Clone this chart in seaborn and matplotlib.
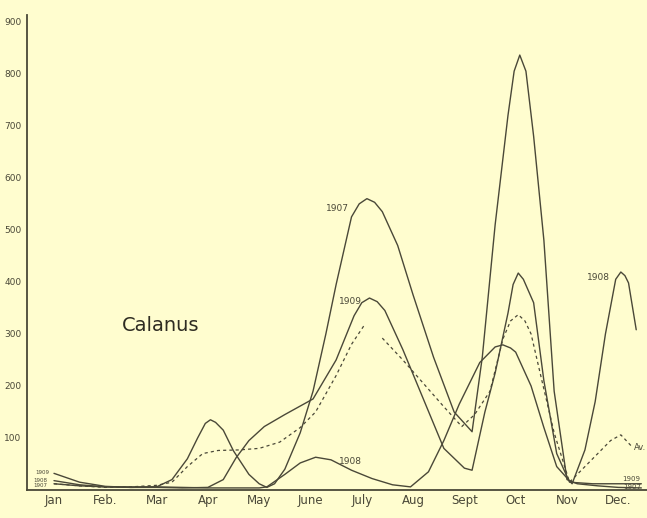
import pandas as pd
import seaborn as sns
import matplotlib.pyplot as plt

# Calanus catch per month
months = ["Jan", "Feb.", "Mar", "Apr", "May", "June", "July", "Aug", "Sept", "Oct", "Nov", "Dec."]
y_ticks = [100, 200, 300, 400, 500, 600, 700, 800, 900]

# positions in month units (0 = Jan)
x_1907 = [0, 0.5, 1, 1.5, 2, 2.3, 2.6, 2.8, 2.95, 3.05, 3.15, 3.3, 3.5, 3.8, 4.0, 4.15, 4.3, 4.5,
          4.8, 5.05, 5.3, 5.5, 5.8, 5.95, 6.1, 6.25, 6.4, 6.7, 7.0, 7.4, 7.8, 8.15, 8.35, 8.6,
          8.85, 8.97, 9.08, 9.2, 9.35, 9.55, 9.75, 10.0, 10.2, 10.6, 11.0, 11.45]
y_1907 = [12, 8, 6, 5, 6, 20, 60, 100, 128, 135, 130, 115, 75, 30, 12, 5, 12, 40,
          110, 190, 300, 395, 525, 550, 560, 553, 535, 470, 375, 255, 150, 112, 256, 510,
          720, 805, 836, 805, 680, 480, 190, 20, 12, 8, 5, 4]

x_1909 = [0, 0.5, 1, 1.5, 2, 2.5, 3.0, 3.3, 3.55, 3.8, 4.1, 4.5, 5.05, 5.5, 5.85, 6.0, 6.15, 6.3,
          6.45, 6.8, 7.2, 7.6, 8.0, 8.15, 8.4, 8.6, 8.85, 8.95, 9.05, 9.15, 9.35, 9.55, 9.8,
          10.05, 10.5, 11.0, 11.45]
y_1909 = [32, 15, 7, 5, 5, 4, 5, 20, 62, 95, 122, 145, 175, 250, 335, 360, 369, 362,
          345, 270, 175, 80, 42, 38, 150, 225, 340, 395, 417, 405, 360, 210, 70,
          15, 12, 12, 12]

x_1908 = [0, 0.5, 1, 1.5, 2, 2.5, 3, 3.5, 4, 4.15, 4.5, 4.8, 5.1, 5.4, 5.8, 6.2, 6.6, 6.95, 7.3,
          7.6, 7.9, 8.3, 8.6, 8.75, 8.9, 9.0, 9.3, 9.55, 9.8, 10.1, 10.35, 10.55, 10.75, 10.95,
          11.05, 11.13, 11.2, 11.35]
y_1908 = [18, 10, 6, 6, 6, 5, 4, 4, 4, 6, 30, 52, 63, 58, 38, 22, 10, 6, 35,
          95, 165, 245, 275, 279, 273, 265, 200, 120, 45, 12, 77, 170, 300, 405,
          419, 412, 398, 308]

# average curve is drawn in two pieces (gap after the July peak)
x_avg_a = [0, 0.5, 1, 1.5, 2, 2.3, 2.6, 2.9, 3.2, 3.6, 4.0, 4.4, 4.8, 5.1, 5.5, 5.8, 6.05]
y_avg_a = [12, 8, 5, 6, 9, 15, 45, 70, 76, 77, 80, 92, 120, 150, 220, 280, 317]
x_avg_b = [6.4, 6.8, 7.2, 7.6, 7.95, 8.2, 8.5, 8.75, 8.9, 9.05, 9.18, 9.3, 9.5, 9.75, 10.05,
           10.3, 10.6, 10.85, 11.05, 11.25]
y_avg_b = [292, 250, 205, 160, 122, 145, 190, 290, 325, 337, 325, 300, 215, 110, 15,
           40, 70, 95, 106, 85]

bg = "#fffdcf"
ink = "#4a4838"

sns.set_style("white")
plt.rcParams["font.family"] = ["DejaVu Sans"]

fig = plt.figure(figsize=(6.47, 5.18), dpi=100)
fig.patch.set_facecolor(bg)
ax = fig.add_axes([27 / 647, 28 / 518, 620 / 647, 475 / 518])
ax.set_facecolor(bg)

for xs, ys in [(x_1907, y_1907), (x_1909, y_1909), (x_1908, y_1908)]:
    sns.lineplot(x=xs, y=ys, ax=ax, color=ink, lw=1.0, sort=False, estimator=None,
                 solid_joinstyle="round")
for xs, ys in [(x_avg_a, y_avg_a), (x_avg_b, y_avg_b)]:
    sns.lineplot(x=xs, y=ys, ax=ax, color=ink, lw=0.9, sort=False, estimator=None,
                 dashes=False, linestyle=(0, (2.5, 2.5)))

ax.set_xlim(-0.526, 11.56)
ax.set_ylim(0, 913)

for s in ["top", "right"]:
    ax.spines[s].set_visible(False)
for s in ["left", "bottom"]:
    ax.spines[s].set_color(ink)
    ax.spines[s].set_linewidth(1.3)

ax.set_yticks(y_ticks)
ax.set_yticklabels([str(v) for v in y_ticks], fontsize=6.5, color=ink)
ax.tick_params(axis="y", direction="inout", length=4, width=0.8, color=ink, pad=2)

ax.set_xticks(range(12))
ax.set_xticklabels(months, fontsize=8.5, color=ink)
ax.set_xticks([i + 0.5 for i in range(11)], minor=True)
ax.tick_params(axis="x", which="major", length=0, pad=3)
ax.tick_params(axis="x", which="minor", direction="in", length=4, width=0.8, color=ink)

ax.text(2.07, 317, "Calanus", fontsize=14, color="#2e2c22", ha="center", va="center")
ax.text(5.52, 542, "1907", fontsize=6.5, color=ink, ha="center", va="center")
ax.text(5.77, 362, "1909", fontsize=6.5, color=ink, ha="center", va="center")
ax.text(5.77, 54, "1908", fontsize=6.5, color=ink, ha="center", va="center")
ax.text(10.62, 408, "1908", fontsize=6.5, color=ink, ha="center", va="center")
ax.text(11.3, 81, "Av.", fontsize=6, color=ink, ha="left", va="center")
ax.text(11.07, 21, "1909", fontsize=5, color=ink, ha="left", va="center")
ax.text(11.09, 6, "1907", fontsize=5, color=ink, ha="left", va="center")
ax.text(-0.23, 33, "1909", fontsize=4, color=ink, ha="center", va="center")
ax.text(-0.26, 19, "1908", fontsize=4, color=ink, ha="center", va="center")
ax.text(-0.26, 9, "1907", fontsize=4, color=ink, ha="center", va="center")

fig.savefig("out.png", dpi=100, facecolor=bg)
